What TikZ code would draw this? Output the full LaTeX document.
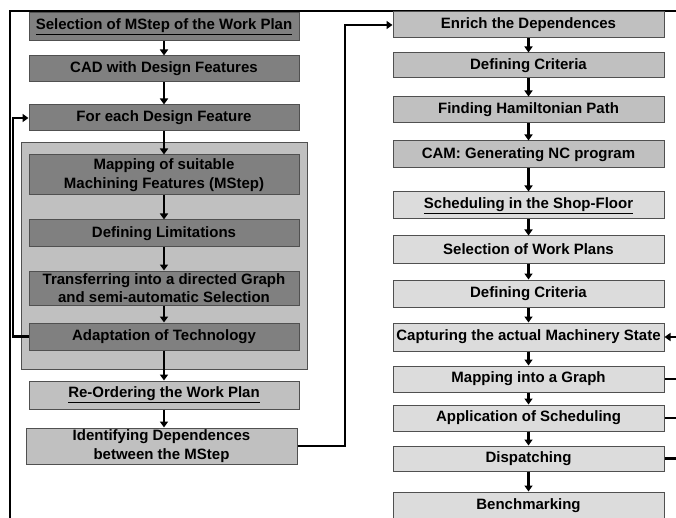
\documentclass[tikz,border=0pt]{standalone}
\usepackage{fontspec}
\setmainfont{Liberation Sans}
\usetikzlibrary{arrows.meta}
\definecolor{dark}{HTML}{808080}
\definecolor{mid}{HTML}{C0C0C0}
\definecolor{light}{HTML}{DCDCDC}
\definecolor{edge}{HTML}{505050}
\begin{document}
\begin{tikzpicture}[x=1pt,y=-1pt,
  box/.style={draw=edge, line width=1pt, inner sep=0pt, align=center,
    font=\fontsize{15}{18.5}\selectfont\bfseries, text=black},
  dbox/.style={box, fill=dark},
  mbox/.style={box, fill=mid},
  lbox/.style={box, fill=light},
  lw/.style={minimum width=270pt},
  rw/.style={minimum width=271pt},
  conn/.style={line width=2.2pt, black},
  arr/.style={conn, -{Triangle[width=8pt,length=6pt]}}
]
\useasboundingbox (0,0) rectangle (676,518);
\begin{scope}
\clip (0,0) rectangle (676,518);
% frame
\draw[conn] (10,518) -- (10,11) -- (676,11);
% container
\node[fill=mid, draw=edge, line width=1pt, minimum width=286pt, minimum height=226pt, inner sep=0pt] (grp) at (164,256) {};
% left column
\node[dbox, lw, minimum height=28pt] (l1) at (164,27) {\underline{Selection of MStep of the Work Plan}};
\node[dbox, lw, minimum height=26pt] (l2) at (164,69) {CAD with Design Features};
\node[dbox, lw, minimum height=26pt] (l3) at (164,118) {For each Design Feature};
\node[dbox, lw, minimum height=40pt] (l4) at (164,175) {Mapping of suitable\\Machining Features (MStep)};
\node[dbox, lw, minimum height=27pt] (l5) at (164,233.5) {Defining Limitations};
\node[dbox, lw, minimum height=34pt] (l6) at (164,288) {Transferring into a directed Graph\\and semi-automatic Selection};
\node[dbox, lw, minimum height=27pt] (l7) at (164,336.5) {Adaptation of Technology};
\node[mbox, lw, minimum height=28pt] (l8) at (164,395) {\underline{Re-Ordering the Work Plan}};
\node[mbox, minimum width=271pt, minimum height=36pt] (l9) at (161.5,446) {Identifying Dependences\\between the MStep};
% right column
\node[mbox, rw, minimum height=26pt] (r1) at (528.5,25) {Enrich the Dependences};
\node[mbox, rw, minimum height=25pt] (r2) at (528.5,65.5) {Defining Criteria};
\node[mbox, rw, minimum height=26pt] (r3) at (528.5,110) {Finding Hamiltonian Path};
\node[mbox, rw, minimum height=27pt] (r4) at (528.5,154.5) {CAM: Generating NC program};
\node[lbox, rw, minimum height=27pt] (r5) at (528.5,205.5) {\underline{Scheduling in the Shop-Floor}};
\node[lbox, rw, minimum height=27pt] (r6) at (528.5,249.5) {Selection of Work Plans};
\node[lbox, rw, minimum height=27pt] (r7) at (528.5,293.5) {Defining Criteria};
\node[lbox, rw, minimum height=28pt] (r8) at (528.5,337) {Capturing the actual Machinery State};
\node[lbox, rw, minimum height=26pt] (r9) at (528.5,379) {Mapping into a Graph};
\node[lbox, rw, minimum height=26pt] (r10) at (528.5,418) {Application of Scheduling};
\node[lbox, rw, minimum height=25pt] (r11) at (528.5,458.5) {Dispatching};
\node[lbox, rw, minimum height=28pt] (r12) at (528.5,506) {Benchmarking};
% left arrows
\foreach \a/\b in {l1/l2,l2/l3,l3/l4,l4/l5,l5/l6,l6/l7,l7/l8}
  \draw[arr] (\a.south) -- (\b.north);
\draw[arr] (l8.south) -- (l8.south |- l9.north);
% feedback
\coordinate (fbA) at (13,336.5);
\coordinate (fbB) at (13,118);
\draw[arr] (l7.west) -- (fbA) -- (fbB) -- (l3.west);
% cross connector
\coordinate (cA) at (345,446);
\coordinate (cB) at (345,25);
\draw[arr] (l9.east) -- (cA) -- (cB) -- (r1.west);
% right arrows
\foreach \a/\b in {r1/r2,r2/r3,r3/r4,r4/r5,r5/r6,r6/r7,r7/r8,r8/r9,r9/r10,r10/r11,r11/r12}
  \draw[arr] (\a.south) -- (\b.north);
% right side lines
\coordinate (e8) at (676,337);
\coordinate (e9) at (676,379);
\coordinate (e10) at (676,418);
\coordinate (e11) at (676,458.5);
\draw[arr] (e8) -- (r8.east);
\draw[conn] (r9.east) -- (e9);
\draw[conn] (r10.east) -- (e10);
\draw[conn] (r11.east) -- (e11);
\end{scope}
\end{tikzpicture}
\end{document}
